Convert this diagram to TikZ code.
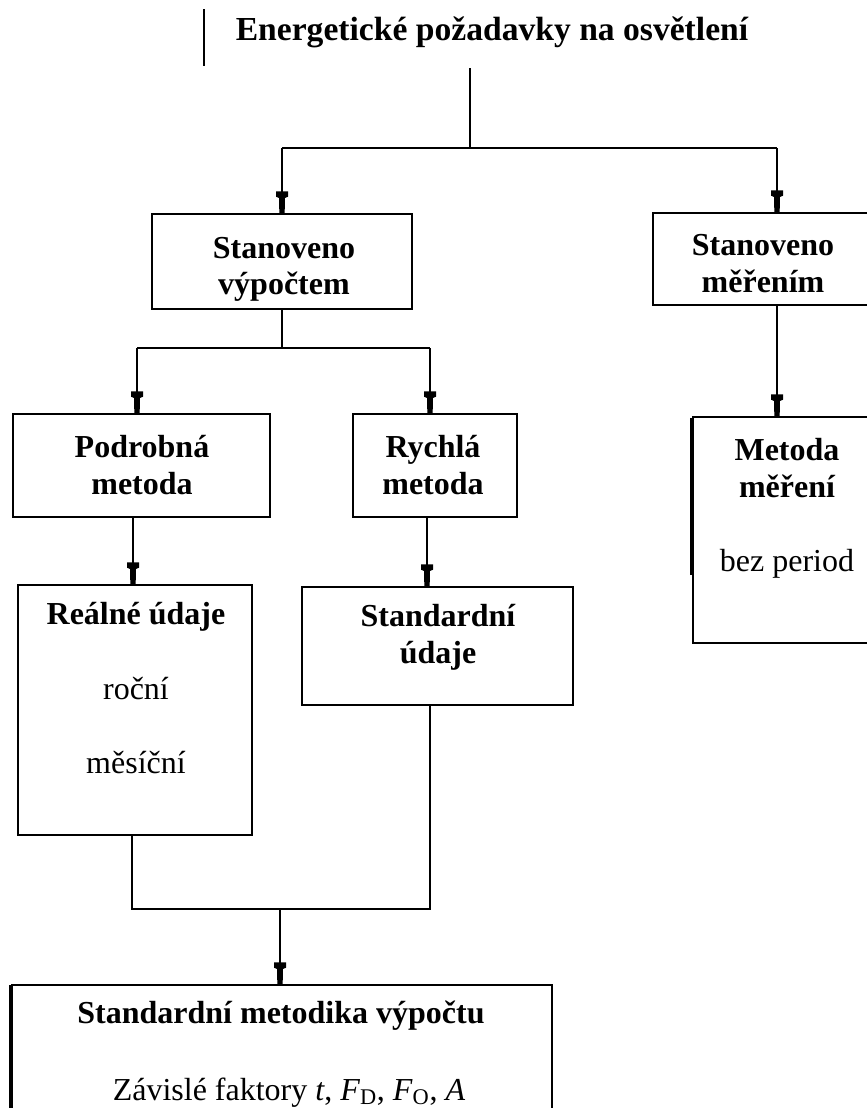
\documentclass[tikz,border=0pt]{standalone}
\usepackage{fontspec}
\setmainfont{Liberation Serif}
\usetikzlibrary{calc}
\pgfdeclarearrow{
  name = Nail,
  setup code = {
    \pgfarrowssettipend{0pt}
    \pgfarrowssetbackend{-17pt}
    \pgfarrowssetlineend{-14pt}
    \pgfarrowssetvisualbackend{-17pt}
    \pgfarrowshullpoint{0pt}{2pt}
    \pgfarrowshullpoint{0pt}{-2pt}
    \pgfarrowshullpoint{-17pt}{4.5pt}
    \pgfarrowshullpoint{-17pt}{-4.5pt}
  },
  drawing code = {
    \pgfpathmoveto{\pgfpoint{0pt}{2pt}}
    \pgfpathlineto{\pgfpoint{-12pt}{2.2pt}}
    \pgfpathlineto{\pgfpoint{-13pt}{4.5pt}}
    \pgfpathlineto{\pgfpoint{-17pt}{4.5pt}}
    \pgfpathlineto{\pgfpoint{-17pt}{-4.5pt}}
    \pgfpathlineto{\pgfpoint{-13pt}{-4.5pt}}
    \pgfpathlineto{\pgfpoint{-12pt}{-2.2pt}}
    \pgfpathlineto{\pgfpoint{0pt}{-2pt}}
    \pgfpathclose
    \pgfusepathqfill
  }
}
\begin{document}
\begin{tikzpicture}[x=0.75pt,y=-0.75pt,
  box/.style={draw, rectangle, line width=2.1pt, inner sep=0pt, outer sep=0pt},
  conn/.style={line width=1.2pt},
  arr/.style={line width=1.2pt, -Nail},
  txt/.style={anchor=base, inner sep=0pt, font=\fontsize{24}{28}\selectfont},
  btxt/.style={anchor=base, inner sep=0pt, font=\fontsize{24}{28}\selectfont\bfseries},
  thick edge/.style={line width=2.2pt}]
\useasboundingbox (0,0) rectangle (867,1108);
\fill[white] (0,0) rectangle (867,1108);
\begin{scope}
\clip (0,0) rectangle (867,1108);

% title
\node[btxt, font=\fontsize{25.2}{29}\selectfont\bfseries] (title) at (492,40) {Energetické požadavky na osvětlení};
\coordinate (tl1) at (204,9);
\coordinate (tl2) at (204,66);
\draw[conn] (tl1) -- (tl2);

% boxes
\node[box, minimum width=195pt, minimum height=71.25pt] (svyp) at (282,261.5) {};
\node[box, minimum width=186pt, minimum height=69pt] (smer) at (777,259) {};
\node[box, minimum width=192.75pt, minimum height=77.25pt] (podr) at (141.5,465.5) {};
\node[box, minimum width=123pt, minimum height=77.25pt] (rych) at (435,465.5) {};
\node[box, minimum width=156pt, minimum height=169.5pt] (metm) at (797,530) {};
\node[box, minimum width=175.5pt, minimum height=187.5pt] (real) at (135,710) {};
\node[box, minimum width=203.25pt, minimum height=88.5pt] (stdu) at (437.5,646) {};
\node[box, minimum width=405pt, minimum height=161.25pt] (bot) at (282,1092.5) {};

% thicker left edges
\coordinate (ml1) at (691,418);
\coordinate (ml2) at (691,575);
\draw[thick edge] (ml1) -- (ml2);
\coordinate (bl1) at (10,985);
\coordinate (bl2) at (10,1108);
\draw[thick edge] (bl1) -- (bl2);

% texts
\node[btxt] (svyp1) at (284,258) {Stanoveno};
\node[btxt] (svyp2) at (284,294) {výpočtem};
\node[btxt] (smer1) at (763,255) {Stanoveno};
\node[btxt] (smer2) at (763,292) {měřením};
\node[btxt] (podr1) at (142,457) {Podrobná};
\node[btxt] (podr2) at (142,494) {metoda};
\node[btxt] (rych1) at (433,457) {Rychlá};
\node[btxt] (rych2) at (433,494) {metoda};
\node[btxt] (metm1) at (787,460) {Metoda};
\node[btxt] (metm2) at (787,497) {měření};
\node[txt] (metm3) at (787,571) {bez period};
\node[btxt] (real1) at (136,624) {Reálné údaje};
\node[txt] (real2) at (136,699) {roční};
\node[txt] (real3) at (136,773) {měsíční};
\node[btxt] (stdu1) at (438,626) {Standardní};
\node[btxt] (stdu2) at (438,663) {údaje};
\node[btxt] (bot1) at (281,1023) {Standardní metodika výpočtu};
\node[txt] (bot2) at (289,1100) {Závislé faktory \textit{t}, \textit{F}\textsubscript{D}, \textit{F}\textsubscript{O}, \textit{A}};

% connectors
\coordinate (t0) at (470,68);
\coordinate (j1) at (470,148);
\coordinate (a1) at (282,148);
\coordinate (a2) at (777,148);
\draw[conn] (t0) -- (j1);
\draw[conn] (a1) -- (a2);
\draw[arr] (a1) -- (a1 |- svyp.north);
\draw[arr] (a2) -- (a2 |- smer.north);

\coordinate (bL) at (137,348);
\coordinate (bR) at (430,348);
\draw[conn] (svyp.south) -- (svyp.south |- bL);
\draw[conn] (bL) -- (bR);
\draw[arr] (bL) -- (bL |- podr.north);
\draw[arr] (bR) -- (bR |- rych.north);

\draw[arr] (smer.south) -- (smer.south |- metm.north);

\coordinate (cL) at (133,517);
\coordinate (cR) at (427,517);
\draw[arr] (cL) -- (cL |- real.north);
\draw[arr] (cR) -- (cR |- stdu.north);

\coordinate (mL) at (132,909);
\coordinate (mR) at (430,909);
\coordinate (m1) at (280,909);
\draw[conn] (mL |- real.south) -- (mL) -- (mR) -- (mR |- stdu.south);
\draw[arr] (m1) -- (m1 |- bot.north);
\end{scope}
\end{tikzpicture}
\end{document}
